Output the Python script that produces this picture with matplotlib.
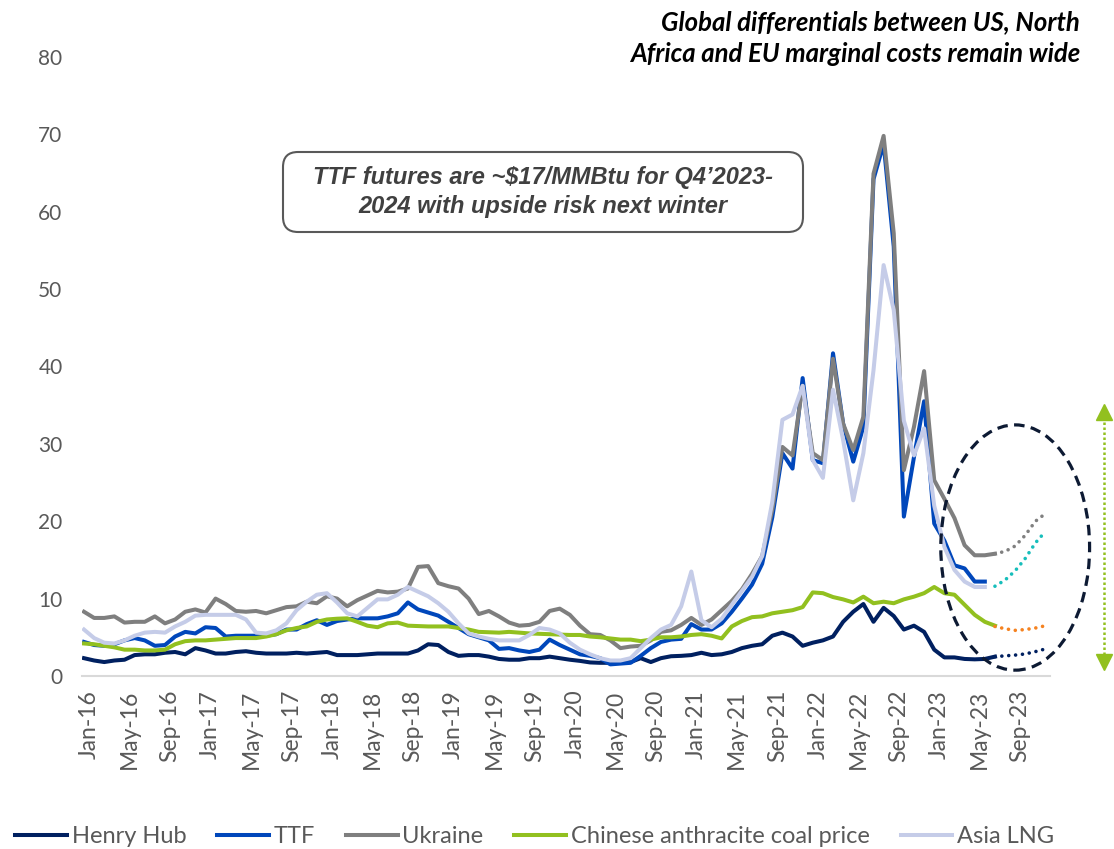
import numpy as np
import pandas as pd
import matplotlib
matplotlib.use('Agg')
import matplotlib.pyplot as plt
from matplotlib.patches import Ellipse, FancyBboxPatch
from matplotlib.transforms import ScaledTranslation

plt.rcParams['font.family'] = ['Lato', 'DejaVu Sans']

# monthly categories Jan-16 .. Dec-23
months = pd.date_range('2016-01-01', '2023-12-01', freq='MS').strftime('%b-%y').tolist()

# $/MMBtu
henry_hub = [2.3, 2.0, 1.8, 2.0, 2.1, 2.7, 2.8, 2.8, 3.0, 3.1, 2.8, 3.6, 3.3, 2.9, 2.9, 3.1, 3.2, 3.0, 2.9, 2.9,
             2.9, 3.0, 2.9, 3.0, 3.1, 2.7, 2.7, 2.7, 2.8, 2.9, 2.9, 2.9, 2.9, 3.3, 4.1, 4.0, 3.1, 2.6, 2.7, 2.7,
             2.5, 2.2, 2.1, 2.1, 2.3, 2.3, 2.5, 2.3, 2.1, 1.95, 1.75, 1.7, 1.7, 1.75, 1.8, 2.3, 1.8, 2.3, 2.55, 2.6,
             2.7, 3.0, 2.7, 2.8, 3.1, 3.6, 3.9, 4.1, 5.2, 5.6, 5.1, 3.9, 4.3, 4.6, 5.1, 7.0, 8.3, 9.3, 7.0, 8.8,
             7.75, 6.0, 6.5, 5.7, 3.4, 2.4, 2.4, 2.2, 2.15, 2.2, 2.5]
ttf = [4.4, 4.0, 3.9, 4.1, 4.6, 4.9, 4.6, 3.9, 4.0, 5.1, 5.7, 5.5, 6.3, 6.2, 5.1, 5.2, 5.2, 5.2, 5.2, 5.4,
       6.0, 6.0, 6.7, 7.2, 6.6, 7.1, 7.3, 7.45, 7.45, 7.45, 7.7, 8.1, 9.5, 8.6, 8.2, 7.8, 7.0, 6.2, 5.4, 5.0,
       4.6, 3.5, 3.6, 3.3, 3.1, 3.4, 4.7, 4.0, 3.4, 2.8, 2.6, 2.3, 1.5, 1.6, 1.7, 2.6, 3.6, 4.4, 4.7, 4.8,
       6.7, 6.0, 6.0, 6.8, 8.3, 10.0, 11.8, 14.5, 20.5, 28.8, 26.8, 38.5, 27.9, 27.5, 41.7, 32.6, 27.7, 32.2, 64.2, 68.8,
       55.5, 20.6, 28.3, 35.5, 19.7, 17.5, 14.3, 13.9, 12.2, 12.2]
ukraine = [8.3, 7.5, 7.5, 7.7, 6.9, 7.0, 7.0, 7.7, 6.8, 7.3, 8.3, 8.6, 8.2, 10.0, 9.3, 8.4, 8.3, 8.4, 8.1, 8.5,
           8.9, 9.0, 9.6, 9.4, 10.3, 10.0, 9.0, 9.8, 10.4, 11.0, 10.8, 10.9, 11.3, 14.1, 14.2, 12.0, 11.6, 11.3, 10.0, 8.0,
           8.4, 7.7, 6.9, 6.5, 6.6, 7.0, 8.4, 8.7, 7.9, 6.5, 5.4, 5.3, 4.6, 3.6, 3.8, 3.9, 4.6, 5.7, 5.9, 6.6,
           7.5, 6.6, 7.3, 8.5, 9.7, 11.2, 13.2, 15.5, 21.5, 29.6, 28.5, 37.5, 28.8, 27.9, 41.0, 32.6, 29.2, 33.5, 64.9, 69.8,
           57.2, 26.6, 32.2, 39.4, 25.3, 22.9, 20.4, 16.9, 15.6, 15.6, 15.8]
coal = [4.2, 4.1, 3.9, 3.7, 3.4, 3.4, 3.3, 3.3, 3.4, 4.1, 4.5, 4.6, 4.6, 4.7, 4.8, 4.9, 4.9, 4.9, 5.1, 5.4,
        5.9, 6.2, 6.4, 7.0, 7.3, 7.4, 7.45, 7.0, 6.5, 6.3, 6.8, 6.9, 6.5, 6.45, 6.4, 6.4, 6.4, 6.2, 6.0, 5.7,
        5.65, 5.6, 5.7, 5.6, 5.5, 5.45, 5.4, 5.35, 5.3, 5.3, 5.1, 5.0, 4.85, 4.7, 4.7, 4.5, 4.7, 5.0, 5.0, 5.1,
        5.3, 5.4, 5.2, 4.85, 6.4, 7.1, 7.6, 7.7, 8.1, 8.3, 8.5, 8.9, 10.8, 10.7, 10.2, 9.9, 9.5, 10.25, 9.4, 9.6,
        9.4, 9.9, 10.25, 10.7, 11.5, 10.7, 10.5, 9.2, 7.9, 7.0, 6.5]
asia_lng = [6.0, 4.9, 4.3, 4.2, 4.6, 5.2, 5.6, 5.7, 5.6, 6.4, 7.0, 7.8, 7.9, 7.9, 7.9, 7.9, 7.3, 5.6, 5.5, 5.9,
            6.8, 8.5, 9.6, 10.5, 10.7, 9.5, 8.1, 7.7, 8.8, 9.9, 9.9, 10.5, 11.5, 10.9, 10.3, 9.4, 8.3, 6.8, 5.5, 5.1,
            4.8, 4.6, 4.6, 4.6, 5.3, 6.2, 6.0, 5.5, 4.3, 3.4, 2.8, 2.3, 2.0, 2.0, 2.3, 3.6, 4.9, 6.0, 6.6, 9.0,
            13.5, 7.2, 6.3, 7.4, 9.2, 11.0, 12.8, 15.5, 22.5, 33.1, 33.8, 37.5, 27.9, 25.6, 37.0, 30.5, 22.7, 28.8, 39.5, 53.1,
            47.3, 33.0, 28.5, 32.0, 22.0, 16.7, 13.7, 12.2, 11.5, 11.5]

# futures curve Jul-23 .. Dec-23 (dotted)
fc_start = 90
ukraine_fc = [15.8, 16.1, 16.8, 18.2, 20.0, 21.0]
ttf_fc = [11.6, 12.4, 13.6, 15.2, 17.2, 18.7]
coal_fc = [6.4, 6.1, 5.9, 6.0, 6.2, 6.5]
hh_fc = [2.5, 2.6, 2.7, 2.85, 3.15, 3.5]

c_hh = '#002060'
c_ttf = '#0047BB'
c_ukr = '#7F7F7F'
c_coal = '#92C01F'
c_lng = '#C5CCE8'
lw = 2.9

fig = plt.figure(figsize=(11.14, 8.49), dpi=100)
ax = fig.add_axes([0.0736, 0.2038, 0.8686, 0.7291])

series = [('Henry Hub', henry_hub, c_hh), ('TTF', ttf, c_ttf), ('Ukraine', ukraine, c_ukr),
          ('Chinese anthracite coal price', coal, c_coal), ('Asia LNG', asia_lng, c_lng)]
for name, vals, col in series:
    ax.plot(np.arange(len(vals)), vals, color=col, lw=lw, label=name, solid_joinstyle='round')

# dotted forward curves
dot = (0, (0.01, 1.9))
fc_x = np.arange(fc_start, fc_start + len(hh_fc))
for vals, col in [(ukraine_fc, '#808080'), (ttf_fc, '#17BEBB'), (coal_fc, '#F58220'), (hh_fc, c_hh)]:
    ax.plot(fc_x, vals, color=col, lw=2.6, linestyle=dot, dash_capstyle='round')

ax.set_xlim(-0.2, 95.4)
ax.set_ylim(0, 80)
ax.set_yticks(range(0, 81, 10))
tick_pos = list(range(0, len(months), 4))
ax.set_xticks(tick_pos)
ax.set_xticklabels([months[i] for i in tick_pos], rotation=90)
ax.tick_params(axis='both', length=0, labelcolor='#595959')
ax.tick_params(axis='y', pad=14, labelsize=15)
ax.tick_params(axis='x', pad=10, labelsize=16.5)
for lbl in ax.get_xticklabels():
    lbl.set_transform(lbl.get_transform() + ScaledTranslation(0.05, 0, fig.dpi_scale_trans))

for s in ['top', 'right', 'left']:
    ax.spines[s].set_visible(False)
ax.spines['bottom'].set_color('#D9D9D9')
ax.spines['bottom'].set_linewidth(1.5)

# dashed ellipse round the forward curves
ell = Ellipse((92.0, 16.6), 14.7, 31.7, fill=False, edgecolor='#0D1A33', lw=2.3,
              linestyle=(0, (3.3, 2.0)), clip_on=False, zorder=5)
ax.add_patch(ell)

# green dotted double arrow (spread)
ax.plot([100.8, 100.8], [33.5, 2.3], color=c_coal, lw=1.8, linestyle=(0, (1, 1)), clip_on=False)
ax.plot([100.8], [34.1], marker='^', markersize=11, color=c_coal, clip_on=False)
ax.plot([100.8], [1.75], marker='v', markersize=11, color=c_coal, clip_on=False)

# callout box
box = FancyBboxPatch((2.83, 6.17), 5.2, 0.8, boxstyle='round,pad=0,rounding_size=0.15',
                     transform=fig.dpi_scale_trans, facecolor='white', edgecolor='#595959', lw=1.5)
fig.patches.append(box)
fig.text(5.43, 6.57, 'TTF futures are ~$17/MMBtu for Q4\u20192023-\n2024 with upside risk next winter',
         transform=fig.dpi_scale_trans, ha='center', va='center', fontsize=17, fontweight='bold',
         fontstyle='italic', color='#404040', family=['Liberation Sans', 'DejaVu Sans'], linespacing=1.35)

fig.text(10.8, 8.11, 'Global differentials between US, North\nAfrica and EU marginal costs remain wide',
         transform=fig.dpi_scale_trans, ha='right', va='center', fontsize=18.5, fontweight='bold',
         fontstyle='italic', color='black', linespacing=1.42)

fig.legend(loc='center', bbox_to_anchor=(0.48, 0.015), ncol=5, frameon=False, fontsize=17,
           handlelength=2.2, handletextpad=0.2, columnspacing=1.3, labelcolor='#595959')

fig.savefig('out.png', dpi=100)
